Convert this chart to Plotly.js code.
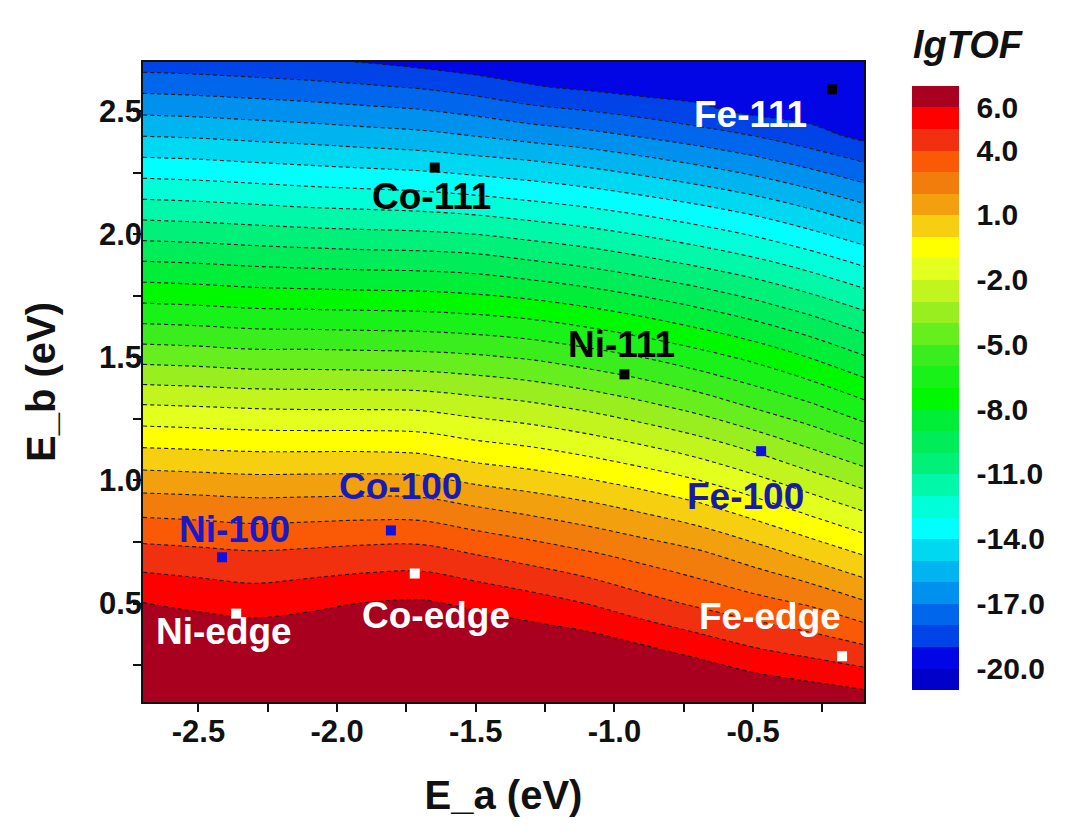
<!DOCTYPE html>
<html><head><meta charset="utf-8">
<script src="https://cdn.plot.ly/plotly-3.0.1.min.js"></script>
<style>html,body{margin:0;padding:0;background:#fff}</style>
</head><body><div id="chart" style="width:1080px;height:838px"></div>
<script>
// E_a grid columns (eV)
const eaGrid = [-2.7, -2.5, -2.3, -2.1, -1.9, -1.7, -1.5, -1.3, -1.1, -0.9, -0.7, -0.5, -0.3, -0.1];
// E_b grid rows (eV)
const ebGrid = [0.1, 0.2, 0.3, 0.5, 0.7, 0.9, 1.1, 1.3, 1.5, 1.7, 1.9, 2.1, 2.3, 2.4, 2.5, 2.6, 2.7];
// lgTOF, one row per E_b value
const lgTOF = [
  [6.97, 6.97, 6.97, 6.97, 6.97, 6.97, 6.97, 6.97, 6.97, 6.97, 6.97, 6.97, 6.89, 6.56],
  [6.96, 6.96, 6.96, 6.96, 6.96, 6.96, 6.96, 6.96, 6.96, 6.96, 6.78, 6.20, 5.83, 5.45],
  [6.95, 6.95, 6.95, 6.95, 6.95, 6.95, 6.95, 6.95, 6.79, 6.32, 5.77, 5.21, 4.81, 4.36],
  [6.03, 5.81, 5.61, 5.81, 6.03, 6.13, 5.84, 5.44, 4.99, 4.38, 3.85, 3.38, 2.91, 2.14],
  [4.41, 4.27, 4.13, 4.23, 4.37, 4.41, 3.99, 3.58, 3.14, 2.67, 2.20, 1.53, 0.75, -0.05],
  [2.53, 2.44, 2.32, 2.36, 2.40, 2.36, 1.94, 1.57, 1.17, 0.69, 0.13, -0.62, -1.45, -2.28],
  [0.38, 0.29, 0.20, 0.20, 0.20, 0.11, -0.31, -0.60, -1.01, -1.50, -2.08, -2.81, -3.65, -4.48],
  [-1.90, -1.99, -2.09, -2.14, -2.14, -2.19, -2.49, -2.79, -3.21, -3.73, -4.33, -5.07, -5.79, -6.69],
  [-4.35, -4.45, -4.60, -4.60, -4.65, -4.70, -4.85, -5.11, -5.52, -6.00, -6.58, -7.22, -8.01, -8.91],
  [-6.76, -6.86, -7.01, -7.06, -7.11, -7.16, -7.31, -7.55, -7.93, -8.41, -8.96, -9.58, -10.30, -11.10],
  [-9.11, -9.21, -9.35, -9.45, -9.54, -9.59, -9.73, -10.07, -10.42, -10.87, -11.37, -11.91, -12.57, -13.34],
  [-11.50, -11.60, -11.74, -11.89, -11.98, -12.08, -12.27, -12.56, -12.87, -13.27, -13.73, -14.26, -14.93, -15.70],
  [-13.85, -13.94, -14.09, -14.23, -14.37, -14.51, -14.75, -15.01, -15.34, -15.76, -16.23, -16.76, -17.39, -18.09],
  [-15.02, -15.11, -15.26, -15.40, -15.57, -15.73, -16.02, -16.36, -16.68, -17.08, -17.52, -18.00, -18.60, -19.25],
  [-16.18, -16.27, -16.41, -16.55, -16.73, -16.91, -17.24, -17.68, -17.97, -18.33, -18.75, -19.20, -19.40, -19.60],
  [-17.31, -17.41, -17.55, -17.70, -17.89, -18.10, -18.46, -18.93, -19.20, -19.45, -19.50, -19.60, -19.70, -19.75],
  [-18.49, -18.58, -18.72, -18.87, -19.03, -19.30, -19.60, -19.65, -19.70, -19.80, -19.85, -19.85, -19.88, -19.90]
];

// catalyst sites
const sites111 = ['Fe-111', 'Co-111', 'Ni-111'];
const ea111 = [-0.215, -1.648, -0.964];
const eb111 = [2.589, 2.271, 1.431];
const sites100 = ['Fe-100', 'Co-100', 'Ni-100'];
const ea100 = [-0.471, -1.806, -2.415];
const eb100 = [1.119, 0.797, 0.688];
const sitesEdge = ['Fe-edge', 'Co-edge', 'Ni-edge'];
const eaEdge = [-0.179, -1.720, -2.364];
const ebEdge = [0.286, 0.622, 0.459];

// tick labels
const xTickVals = [-2.5, -2.25, -2.0, -1.75, -1.5, -1.25, -1.0, -0.75, -0.5, -0.25];
const xLabelVals = [-2.5, -2.0, -1.5, -1.0, -0.5];
const yTickVals = [0.25, 0.5, 0.75, 1.0, 1.25, 1.5, 1.75, 2.0, 2.25, 2.5];
const yLabelVals = [0.5, 1.0, 1.5, 2.0, 2.5];
const cbTickVals = [6, 4, 1, -2, -5, -8, -11, -14, -17, -20];

// ---------- styling ----------
const FONT = 'Liberation Sans, Arial, Helvetica, sans-serif';
// fill colour of each 1-unit band, from below -21 (index 0) up to above 7 (last)
const bandColors = [
  '#ffffff', '#0000c8', '#0306e4', '#0044e8', '#0066ec', '#0090ee', '#00b4f0', '#00d8f2',
  '#00ffff', '#00ffd8', '#00f8a8', '#00f07a', '#00ec58', '#00ee38', '#00f800', '#18f218',
  '#3aee1e', '#66ee1e', '#98ee1e', '#c2f41e', '#e2ff1e', '#ffff00', '#f6cf10', '#f2a00e',
  '#f27c0c', '#fa5a05', '#f0300f', '#ff0000', '#a8001e', '#ffffff'
];
const cStart = -21, cEnd = 7, nSpan = 29;
const colorscale = [];
bandColors.forEach((c, i) => {
  const lo = Math.max(0, (i - 0.5) / nSpan), hi = Math.min(1, (i + 0.5) / nSpan);
  colorscale.push([lo, c]); colorscale.push([hi, c]);
});

const labelStyle = {
  'Fe-111': {dx: -82, dy: 25, color: '#ffffff'},
  'Co-111': {dx: -3, dy: 29, color: '#000000'},
  'Ni-111': {dx: -3, dy: -30, color: '#000000'},
  'Fe-100': {dx: -16, dy: 45, color: '#1a1aa8'},
  'Co-100': {dx: 10, dy: -44, color: '#1a1ab8'},
  'Ni-100': {dx: 12, dy: -28, color: '#1a1ac4'},
  'Co-edge': {dx: 21, dy: 42, color: '#ffffff'},
  'Ni-edge': {dx: -12, dy: 18, color: '#ffffff'},
  'Fe-edge': {dx: -72, dy: -40, color: '#ffffff'}
};

const fillTrace = {
  type: 'contour', x: eaGrid, y: ebGrid, z: lgTOF,
  autocontour: false,
  contours: {start: cStart, end: cEnd, size: 1, coloring: 'fill', showlines: false},
  line: {width: 0, smoothing: 1},
  colorscale: colorscale,
  hoverinfo: 'skip',
  colorbar: {
    thickness: 47, thicknessmode: 'pixels', len: 626, lenmode: 'pixels',
    xref: 'container', x: 912 / 1080, xanchor: 'left',
    yref: 'paper', y: 0.4912, yanchor: 'middle',
    xpad: 0, ypad: 0, outlinewidth: 0,
    tickmode: 'array', tickvals: cbTickVals, ticktext: cbTickVals.map(v => v.toFixed(1)),
    ticks: 'outside', ticklen: 12, tickcolor: 'rgba(0,0,0,0)',
    tickfont: {family: FONT, size: 30, weight: 'bold', color: '#111'}
  }
};
const lineTrace = {
  type: 'contour', x: eaGrid, y: ebGrid, z: lgTOF,
  autocontour: false,
  contours: {start: cStart, end: 6, size: 1, coloring: 'none', showlines: true},
  line: {color: '#1a1a1a', width: 1.1, dash: '4px,3px', smoothing: 1},
  showscale: false, hoverinfo: 'skip'
};
// site markers live on the overlaid label axes (same ranges as the map axes)
function siteTrace(ea, eb, names, color) {
  return {type: 'scatter', mode: 'markers', x: ea, y: eb, text: names, xaxis: 'x2', yaxis: 'y2',
    marker: {symbol: 'square', size: 10, color: color, line: {width: 0}},
    hoverinfo: 'text', showlegend: false, cliponaxis: false};
}
const traces = [fillTrace, lineTrace,
  siteTrace(ea111, eb111, sites111, '#000000'),
  siteTrace(ea100, eb100, sites100, '#1010e0'),
  siteTrace(eaEdge, ebEdge, sitesEdge, '#ffffff')];

const annotations = [];
[[sites111, ea111, eb111], [sites100, ea100, eb100], [sitesEdge, eaEdge, ebEdge]].forEach(([n, xs, ys]) => {
  n.forEach((name, i) => {
    const s = labelStyle[name];
    annotations.push({x: xs[i], y: ys[i], xref: 'x', yref: 'y', text: name, showarrow: false,
      xshift: s.dx, yshift: -s.dy, xanchor: 'center', yanchor: 'middle',
      font: {family: FONT, size: 37, weight: 'bold', color: s.color}});
  });
});
annotations.push({xref: 'paper', yref: 'paper', x: (968 - 143) / 721, y: (702 - 45) / 640,
  text: 'lgTOF', showarrow: false, xanchor: 'center', yanchor: 'middle',
  font: {family: FONT, size: 38, weight: 'bold', style: 'italic', color: '#111'}});

const xRange = [-2.7, -0.1], yRange = [0.1, 2.7];
const tickFont = {family: FONT, size: 31, weight: 'bold', color: '#111'};
const titleFont = {family: FONT, size: 40, weight: 'bold', color: '#111'};
// frame + tick marks (no labels)
const frameAxis = {
  showgrid: false, zeroline: false, showline: true, linecolor: '#111', linewidth: 2, mirror: true,
  ticks: 'outside', ticklen: 8, tickwidth: 2, tickcolor: '#111', showticklabels: false,
  tickmode: 'array'
};
// labels only (no tick marks), overlaid on the frame axes
const labelAxis = {
  showgrid: false, zeroline: false, showline: false, ticks: '', tickmode: 'array',
  tickfont: tickFont
};
const layout = {
  width: 1080, height: 838,
  margin: {l: 143, r: 216, t: 62, b: 136},
  paper_bgcolor: '#ffffff', plot_bgcolor: '#ffffff',
  showlegend: false,
  xaxis: Object.assign({}, frameAxis, {range: xRange, tickvals: xTickVals}),
  yaxis: Object.assign({}, frameAxis, {range: yRange, tickvals: yTickVals}),
  xaxis2: Object.assign({}, labelAxis, {
    overlaying: 'x', anchor: 'y2', side: 'bottom', range: xRange, ticklabelstandoff: 8,
    tickvals: xLabelVals, ticktext: xLabelVals.map(v => v.toFixed(1)),
    title: {text: 'E_a (eV)', standoff: 32, font: titleFont}
  }),
  yaxis2: Object.assign({}, labelAxis, {
    overlaying: 'y', anchor: 'x2', side: 'left', range: yRange,
    tickvals: yLabelVals, ticktext: yLabelVals.map(v => v.toFixed(1)),
    title: {text: 'E_b (eV)', standoff: 30, font: titleFont}
  }),
  annotations: annotations
};
Plotly.newPlot('chart', traces, layout, {displayModeBar: false, staticPlot: true});
</script>
</body></html>
